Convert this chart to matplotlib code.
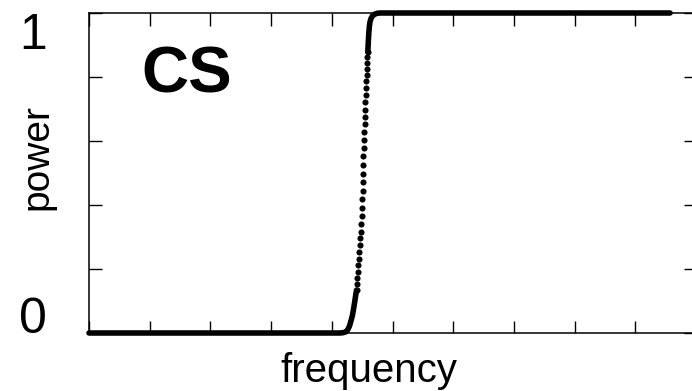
#!/usr/bin/env python3
"""Power vs frequency for the CS filter: sharp step from 0 to 1."""
import matplotlib

matplotlib.use("Agg")
import matplotlib.pyplot as plt
import numpy as np

# Flat stop band plus the lower knee of the transition (frequency, power).
LOW_FREQ = [0.0, 4.135, 4.185, 4.226, 4.259, 4.292, 4.316, 4.341, 4.361, 4.377, 4.392, 4.407]
LOW_POWER = [0.0, 0.0, 0.001, 0.003, 0.009, 0.022, 0.038, 0.056, 0.078, 0.097, 0.116, 0.134]

# Individual samples across the steep part of the transition.
STEP_FREQ = [
    4.407, 4.415, 4.423, 4.432, 4.438, 4.445, 4.453, 4.461, 4.470, 4.478,
    4.486, 4.491, 4.496, 4.501, 4.506, 4.511, 4.514, 4.519, 4.522, 4.527,
    4.531, 4.535, 4.539, 4.544, 4.549, 4.554, 4.559, 4.563, 4.568, 4.573,
    4.578, 4.583, 4.588, 4.593,
]
STEP_POWER = [
    0.134, 0.153, 0.172, 0.191, 0.211, 0.231, 0.253, 0.275, 0.297, 0.317,
    0.342, 0.366, 0.392, 0.419, 0.445, 0.472, 0.498, 0.525, 0.552, 0.578,
    0.603, 0.628, 0.652, 0.675, 0.698, 0.722, 0.744, 0.766, 0.786, 0.806,
    0.825, 0.844, 0.861, 0.878,
]

# Upper knee and flat pass band.
HIGH_FREQ = [4.593, 4.598, 4.603, 4.610, 4.618, 4.629, 4.646, 4.671, 4.703, 4.745, 4.794, 9.572]
HIGH_POWER = [0.878, 0.897, 0.916, 0.938, 0.956, 0.972, 0.983, 0.991, 0.996, 0.999, 1.0, 1.0]

Y_TICKS = [0.0, 0.2, 0.4, 0.6, 0.8, 1.0]
Y_TICK_LABELS = ["0", "", "", "", "", "1"]
X_TICKS = list(range(0, 11))

_FIG_W_PX = 692
_FIG_H_PX = 391
_DPI = 100
_CURVE_LW = 4.0
_DOT_SIZE = 4.4


def main() -> int:
    plt.rcParams.update({
        "font.family": ["Liberation Sans", "DejaVu Sans"],
        "axes.linewidth": 1.1,
        "xtick.direction": "in",
        "ytick.direction": "in",
        "xtick.top": True,
        "ytick.right": True,
        "xtick.major.size": 9,
        "ytick.major.size": 9,
        "xtick.major.width": 1.0,
        "ytick.major.width": 1.0,
    })

    fig = plt.figure(figsize=(_FIG_W_PX / _DPI, _FIG_H_PX / _DPI), dpi=_DPI)
    # right edge of the frame runs just past the canvas
    ax = fig.add_axes([89 / _FIG_W_PX, 58 / _FIG_H_PX, 607 / _FIG_W_PX, 320 / _FIG_H_PX])

    ax.plot(LOW_FREQ, LOW_POWER, color="black", lw=_CURVE_LW,
            solid_capstyle="round", clip_on=False, zorder=3)
    ax.plot(HIGH_FREQ, HIGH_POWER, color="black", lw=_CURVE_LW,
            solid_capstyle="round", clip_on=False, zorder=3)
    ax.plot(STEP_FREQ, STEP_POWER, linestyle="none", marker="o",
            markersize=_DOT_SIZE, color="black", markeredgewidth=0,
            clip_on=False, zorder=3)

    ax.set_xlim(0, 10)
    ax.set_ylim(0, 1)
    ax.set_xticks(X_TICKS)
    ax.set_xticklabels([])
    ax.set_yticks(Y_TICKS)
    ax.set_yticklabels(Y_TICK_LABELS, fontsize=36)
    ax.tick_params(axis="y", pad=30)
    labels = ax.get_yticklabels()
    labels[0].set_verticalalignment("baseline")
    labels[-1].set_verticalalignment("top")

    ax.set_xlabel("frequency", fontsize=29)
    ax.xaxis.set_label_coords(0.461, -0.058)
    ax.set_ylabel("power", fontsize=28)
    ax.yaxis.set_label_coords(-0.055, 0.55)

    ax.text(0.87, 0.753, "CS", fontsize=47, fontweight="bold",
            ha="left", va="baseline")

    fig.savefig("out.png", dpi=_DPI)
    plt.close(fig)
    return 0


if __name__ == "__main__":
    main()
